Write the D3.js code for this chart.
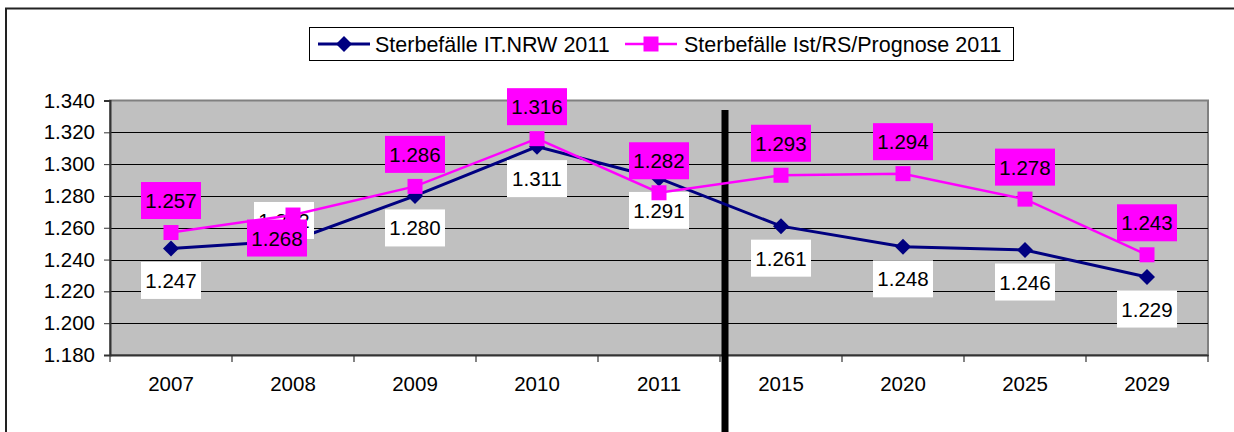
<!DOCTYPE html>
<html>
<head>
<meta charset="utf-8">
<script src="https://cdn.jsdelivr.net/npm/d3@7"></script>
<style>
  html, body { margin: 0; padding: 0; background: #fff; }
  svg { display: block; font-family: "Liberation Sans", Arial, sans-serif; }
</style>
</head>
<body>
<svg id="chart" width="1234" height="432"></svg>
<script>
// Daten
const years = ['2007', '2008', '2009', '2010', '2011', '2015', '2020', '2025', '2029'];
const itNrw = [1.247, 1.252, 1.280, 1.311, 1.291, 1.261, 1.248, 1.246, 1.229];
const istPrognose = [1.257, 1.268, 1.286, 1.316, 1.282, 1.293, 1.294, 1.278, 1.243];
const yTicks = [1.18, 1.20, 1.22, 1.24, 1.26, 1.28, 1.30, 1.32, 1.34];
const seriesNames = ['Sterbefälle IT.NRW 2011', 'Sterbefälle Ist/RS/Prognose 2011'];
// Beschriftung unterhalb (1) oder oberhalb (-1) des Punktes
const labelSideNrw = [1, -1, 1, 1, 1, 1, 1, 1, 1];
const labelSidePrognose = [-1, 1, -1, -1, -1, -1, -1, -1, -1];

const navy = '#000080';
const pink = '#ff00ff';
const fmt = v => d3.format('.3f')(v);
const fontSize = 20.5;

const svg = d3.select('#chart');

// Rahmen des Diagramms
svg.append('rect')
    .attr('x', 6).attr('y', 8.5)
    .attr('width', 1240).attr('height', 440)
    .attr('fill', 'none').attr('stroke', '#222').attr('stroke-width', 2);

const plotLeft = 110, plotRight = 1208, plotTop = 100.5, plotBottom = 355;

const x = d3.scaleBand().domain(years).range([plotLeft, plotRight]).padding(0);
const y = d3.scaleLinear().domain([1.18, 1.34]).range([plotBottom, plotTop]);
const cx = d => x(d) + x.bandwidth() / 2;

// Plotfläche
svg.append('rect')
    .attr('x', plotLeft).attr('y', plotTop)
    .attr('width', plotRight - plotLeft).attr('height', plotBottom - plotTop)
    .attr('fill', '#c0c0c0').attr('stroke', '#808080').attr('stroke-width', 2);

// Gitterlinien
svg.append('g')
    .selectAll('line')
    .data(yTicks.filter(t => t > 1.18 && t < 1.34))
    .enter().append('line')
    .attr('x1', plotLeft).attr('x2', plotRight)
    .attr('y1', d => Math.round(y(d)) + 0.5).attr('y2', d => Math.round(y(d)) + 0.5)
    .attr('stroke', '#000').attr('stroke-width', 1);

// Y-Achse
const yAxis = svg.append('g')
    .attr('transform', `translate(${plotLeft},0)`)
    .call(d3.axisLeft(y).tickValues(yTicks).tickFormat(fmt).tickSize(6).tickPadding(9));
yAxis.select('.domain').attr('stroke', '#333').attr('stroke-width', 2);
yAxis.selectAll('.tick line').attr('stroke', '#333');
yAxis.selectAll('.tick text').attr('font-size', fontSize).attr('fill', '#000')
    .attr('font-family', '"Liberation Sans", Arial, sans-serif');

// X-Achse
const xAxis = svg.append('g')
    .attr('transform', `translate(0,${plotBottom})`)
    .call(d3.axisBottom(x).tickSize(0).tickPadding(21));
xAxis.select('.domain').attr('stroke', '#333').attr('stroke-width', 2);
xAxis.selectAll('.tick text').attr('font-size', fontSize).attr('fill', '#000')
    .attr('font-family', '"Liberation Sans", Arial, sans-serif');

// Teilstriche zwischen den Kategorien
svg.append('g')
    .selectAll('line')
    .data(d3.range(years.length + 1))
    .enter().append('line')
    .attr('x1', i => plotLeft + i * x.bandwidth())
    .attr('x2', i => plotLeft + i * x.bandwidth())
    .attr('y1', plotBottom).attr('y2', plotBottom + 7)
    .attr('stroke', '#333').attr('stroke-width', 1.2);

// Trennlinie Ist / Prognose
const sepX = x('2015') + 5;
svg.append('line')
    .attr('x1', sepX).attr('x2', sepX)
    .attr('y1', 110).attr('y2', 432)
    .attr('stroke', '#000').attr('stroke-width', 7);

const line = d3.line().x((d, i) => cx(years[i])).y(d => y(d));

function drawLabels(values, sides, fill, shift2008) {
    const g = svg.append('g');
    values.forEach((v, i) => {
        const px = cx(years[i]) + (i === 1 ? shift2008 : 0);
        const off = sides[i] > 0 ? (i === 1 ? 23 : 32) : (i === 1 ? -20 : -32);
        const py = y(v) + off;
        g.append('rect')
            .attr('x', px - 30).attr('y', py - 18.5)
            .attr('width', 60).attr('height', 37)
            .attr('fill', fill);
        g.append('text')
            .attr('x', px).attr('y', py + 7.5)
            .attr('text-anchor', 'middle')
            .attr('font-size', fontSize)
            .attr('fill', '#000')
            .text(fmt(v));
    });
}

// Reihe IT.NRW
svg.append('path')
    .datum(itNrw)
    .attr('d', line)
    .attr('fill', 'none').attr('stroke', navy).attr('stroke-width', 3);
svg.append('g')
    .selectAll('path')
    .data(itNrw)
    .enter().append('path')
    .attr('d', 'M0,-8L8,0L0,8L-8,0Z')
    .attr('transform', (d, i) => `translate(${cx(years[i])},${y(d)})`)
    .attr('fill', navy);

// Beschriftungen IT.NRW
drawLabels(itNrw, labelSideNrw, '#fff', -9);

// Reihe Ist/RS/Prognose
svg.append('path')
    .datum(istPrognose)
    .attr('d', line)
    .attr('fill', 'none').attr('stroke', pink).attr('stroke-width', 2.5);
svg.append('g')
    .selectAll('rect')
    .data(istPrognose)
    .enter().append('rect')
    .attr('x', (d, i) => cx(years[i]) - 7.5)
    .attr('y', d => y(d) - 7.5)
    .attr('width', 15).attr('height', 15)
    .attr('fill', pink);

drawLabels(istPrognose, labelSidePrognose, pink, -16);

// Legende
const legend = svg.append('g');
legend.append('rect')
    .attr('x', 309.5).attr('y', 27.5)
    .attr('width', 704).attr('height', 33)
    .attr('fill', '#fff').attr('stroke', '#000').attr('stroke-width', 1);

const legendItems = [
    { name: seriesNames[0], color: navy, x0: 318, shape: 'diamond', tx: 375 },
    { name: seriesNames[1], color: pink, x0: 625, shape: 'square', tx: 684 }
];
legendItems.forEach(it => {
    legend.append('line')
        .attr('x1', it.x0).attr('x2', it.x0 + 52)
        .attr('y1', 44).attr('y2', 44)
        .attr('stroke', it.color).attr('stroke-width', it.shape === 'diamond' ? 3 : 2.5);
    if (it.shape === 'diamond') {
        legend.append('path')
            .attr('d', 'M0,-8L8,0L0,8L-8,0Z')
            .attr('transform', `translate(${it.x0 + 26},44)`)
            .attr('fill', it.color);
    } else {
        legend.append('rect')
            .attr('x', it.x0 + 26 - 7.5).attr('y', 44 - 7.5)
            .attr('width', 15).attr('height', 15)
            .attr('fill', it.color);
    }
    legend.append('text')
        .attr('x', it.tx).attr('y', 51.5)
        .attr('font-size', 21.5)
        .attr('fill', '#000')
        .text(it.name);
});
</script>
</body>
</html>
